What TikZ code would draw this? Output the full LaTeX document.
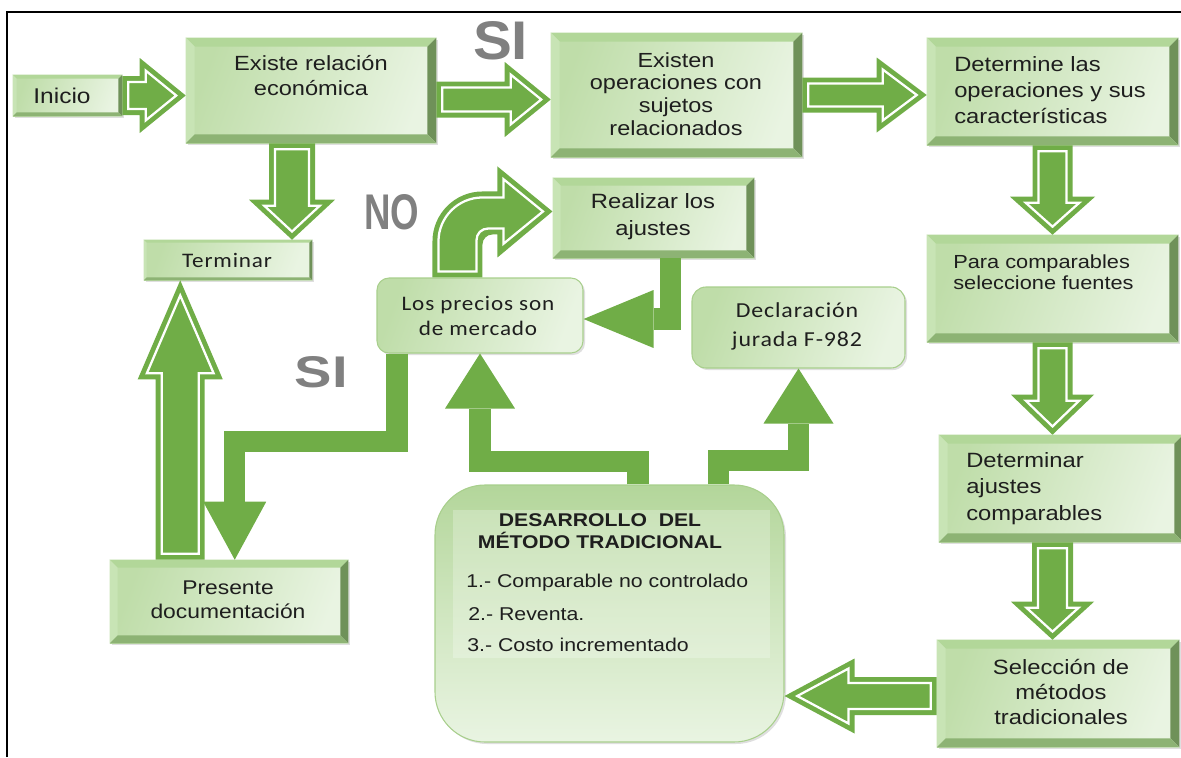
\documentclass[tikz,border=0pt]{standalone}
\usepackage{fontspec}
\setmainfont{Liberation Sans}[FakeStretch=1.15]
\newfontfamily\calfont{Carlito}[FakeStretch=1.12,LetterSpace=4]
\usepackage{graphicx}
\usetikzlibrary{calc,arrows.meta,shadows}

\definecolor{agreen}{HTML}{70AD47}
\definecolor{faceA}{HTML}{BFDDA9}
\definecolor{faceB}{HTML}{E9F4E2}
\definecolor{bvtop}{HTML}{B2D799}
\definecolor{bvleft}{HTML}{C8E4B5}
\definecolor{bvright}{HTML}{6F9159}
\definecolor{bvbottom}{HTML}{8DB374}
\definecolor{rborder}{HTML}{A8CF8C}
\definecolor{tcol}{HTML}{1E1E1E}
\definecolor{wagray}{HTML}{808080}

\newcommand\fz[2]{\fontsize{#1pt}{#2pt}\selectfont}
\def\hdd{6}
\def\hwl{1.7pt}

\newcommand\bevel[2]{%
 \fill[bvtop] (#1.north west) -- (#1.north east) -- ($(#1.north east)+(-#2,#2)$) -- ($(#1.north west)+(#2,#2)$) -- cycle;
 \fill[bvleft] (#1.north west) -- ($(#1.north west)+(#2,#2)$) -- ($(#1.south west)+(#2,-#2)$) -- (#1.south west) -- cycle;
 \fill[bvright] (#1.north east) -- ($(#1.north east)+(-#2,#2)$) -- ($(#1.south east)+(-#2,-#2)$) -- (#1.south east) -- cycle;
 \fill[bvbottom] (#1.south west) -- ($(#1.south west)+(#2,-#2)$) -- ($(#1.south east)+(-#2,-#2)$) -- (#1.south east) -- cycle;
}

\newcommand\arrowcalc[3]{% #1 body half, #2 head half, #3 head length (signed)
 \pgfmathsetmacro\hS{sign(#3)}%
 \pgfmathsetmacro\hA{abs(#3)}%
 \pgfmathsetmacro\hLen{sqrt((#3)*(#3)+(#2)*(#2))}%
 \pgfmathsetmacro\oBase{-1*(#3)}%
 \pgfmathsetmacro\iStart{\hS*\hdd}%
 \pgfmathsetmacro\iBody{#1-\hdd}%
 \pgfmathsetmacro\iBase{-1*(#3)+\hS*\hdd}%
 \pgfmathsetmacro\iHead{(#2)*(\hA-\hdd)/\hA-\hdd*\hLen/\hA}%
 \pgfmathsetmacro\iTip{-1*\hS*\hdd*\hLen/(#2)}%
}

\newcommand\hollowH[5]{%
 \arrowcalc{#3}{#4}{#5}%
 \fill[agreen] ($(#1)+(0,-#3)$) -- ($(#2)+(\oBase,-#3)$) -- ($(#2)+(\oBase,-#4)$) -- (#2) -- ($(#2)+(\oBase,#4)$) -- ($(#2)+(\oBase,#3)$) -- ($(#1)+(0,#3)$) -- cycle;
 \draw[white,line width=\hwl,line join=miter] ($(#1)+(\iStart,-\iBody)$) -- ($(#2)+(\iBase,-\iBody)$) -- ($(#2)+(\iBase,-\iHead)$) -- ($(#2)+(\iTip,0)$) -- ($(#2)+(\iBase,\iHead)$) -- ($(#2)+(\iBase,\iBody)$) -- ($(#1)+(\iStart,\iBody)$) -- cycle;
}

\newcommand\hollowV[5]{%
 \arrowcalc{#3}{#4}{#5}%
 \fill[agreen] ($(#1)+(-#3,0)$) -- ($(#2)+(-#3,\oBase)$) -- ($(#2)+(-#4,\oBase)$) -- (#2) -- ($(#2)+(#4,\oBase)$) -- ($(#2)+(#3,\oBase)$) -- ($(#1)+(#3,0)$) -- cycle;
 \draw[white,line width=\hwl,line join=miter] ($(#1)+(-\iBody,\iStart)$) -- ($(#2)+(-\iBody,\iBase)$) -- ($(#2)+(-\iHead,\iBase)$) -- ($(#2)+(0,\iTip)$) -- ($(#2)+(\iHead,\iBase)$) -- ($(#2)+(\iBody,\iBase)$) -- ($(#1)+(\iBody,\iStart)$) -- cycle;
}

\tikzset{
 bbox/.style 2 args={shape=rectangle, minimum width=#1*0.75pt, minimum height=#2*0.75pt, inner sep=0pt,
   left color=faceA, right color=faceB, shading angle=70,
   drop shadow={opacity=0.25, shadow xshift=1.5pt, shadow yshift=-1.5pt}},
 rbox/.style n args={3}{shape=rectangle, rounded corners=#3*0.75pt, minimum width=#1*0.75pt, minimum height=#2*0.75pt, inner sep=0pt,
   draw=rborder, line width=0.8pt, left color=faceA, right color=faceB, shading angle=70,
   drop shadow={opacity=0.25, shadow xshift=1.5pt, shadow yshift=-1.5pt}},
 txt/.style={inner sep=0pt, text=tcol, align=center},
 wa/.style={inner sep=0pt, text=wagray, font=\bfseries},
 solidarr/.style 2 args={draw=agreen, line width=16pt, line join=miter, -{Triangle[length=#1, width=#2, line width=0pt]}},
}

\begin{document}
\begin{tikzpicture}[x=0.75pt,y=-0.75pt]
\useasboundingbox (0,0) rectangle (1181,757);
\draw[line width=1.1pt] (7,757) -- (7,12) -- (1181,12);

% boxes
\node[bbox={109}{41}] (inicio) at (67.5,95.5) {}; \bevel{inicio}{4}
\node[bbox={250}{105}] (existe) at (311,90.5) {}; \bevel{existe}{9}
\node[bbox={251}{124}] (existen) at (676.5,95) {}; \bevel{existen}{9}
\node[bbox={251}{107}] (determine) at (1052.5,91.5) {}; \bevel{determine}{9}
\node[bbox={168}{40}] (terminar) at (228,260) {}; \bevel{terminar}{3}
\node[bbox={201}{80}] (realizar) at (653.5,218) {}; \bevel{realizar}{8}
\node[bbox={251}{107}] (para) at (1052.5,288.5) {}; \bevel{para}{9}
\node[bbox={244}{107}] (determinar) at (1061,488.5) {}; \bevel{determinar}{9}
\node[bbox={242}{107}] (seleccion) at (1058,693.5) {}; \bevel{seleccion}{9}
\node[bbox={238}{83}] (presente) at (229,601.5) {}; \bevel{presente}{8}
\node[rbox={206}{75}{12}] (lp) at (480,315.5) {};
\node[rbox={213}{81}{14}] (decl) at (798.5,327.5) {};
\node[rbox={349}{257}{50}, top color=faceA!85!agreen, bottom color=faceB, middle color=faceA!60!faceB] (desarrollo) at (609.5,613.5) {};
\fill[white,opacity=0.25] (453,510) rectangle (770,658);

% hollow block arrows
\coordinate (a1s) at (inicio.east);
\coordinate (a1t) at (existe.west |- a1s);
\hollowH{a1s}{a1t}{19.5}{37.5}{46}
\coordinate (a2s) at ($(existe.east)+(0,9)$);
\coordinate (a2t) at (existen.west |- a2s);
\hollowH{a2s}{a2t}{18}{37.5}{46}
\coordinate (a3s) at (existen.east);
\coordinate (a3t) at (determine.west |- a3s);
\hollowH{a3s}{a3t}{17.5}{37.5}{50}
\coordinate (a4s) at ($(existe.south)+(-19,0)$);
\coordinate (a4t) at (a4s |- terminar.north);
\hollowV{a4s}{a4t}{23}{43}{40}
\coordinate (a5s) at (determine.south);
\coordinate (a5t) at (a5s |- para.north);
\hollowV{a5s}{a5t}{20}{42.5}{38}
\coordinate (a6s) at (para.south);
\coordinate (a6t) at (a6s |- determinar.north);
\hollowV{a6s}{a6t}{20}{41.5}{40}
\coordinate (a7s) at (a6s |- determinar.south);
\coordinate (a7t) at (a6s |- seleccion.north);
\hollowV{a7s}{a7t}{20.5}{41.5}{38}
\coordinate (a8s) at ($(seleccion.west)+(0,2.5)$);
\coordinate (a8t) at (desarrollo.east |- a8s);
\hollowH{a8s}{a8t}{19}{37.5}{-70}
\coordinate (a9s) at ($(presente.north west)+(70.5,0)$);
\coordinate (a9t) at (a9s |- terminar.south);
\hollowV{a9s}{a9t}{24.5}{42.5}{-99}

% curved NO arrow from lp to realizar
\begin{scope}[shift={(lp.north west)}]
 \fill[agreen] (56,0) -- (56,-36) .. controls (56,-63.6) and (78.4,-86) .. (106,-86) -- (121,-86) -- (121,-111) -- (176,-66) -- (121,-20) -- (121,-43) -- (116,-43) .. controls (110.5,-43) and (106,-38.5) .. (106,-33) -- (106,0) -- cycle;
 \draw[white,line width=\hwl,line join=miter] (62,-6) -- (62,-36) .. controls (62,-60.3) and (81.7,-80) .. (106,-80) -- (127,-80) -- (127,-98.3) -- (166.5,-66) -- (127,-33.7) -- (127,-49) -- (112,-49) .. controls (105,-49) and (100,-44) .. (100,-37) -- (100,-6) -- cycle;
\end{scope}

% solid connectors
\coordinate (s1s) at ($(lp.south west)+(20.5,0)$);
\coordinate (s1t) at ($(presente.north west)+(125,0)$);
\draw[solidarr={43.5pt}{47.25pt}] (s1s) -- ($(s1s)+(0,88)$) -| (s1t);
\coordinate (s2s) at ($(realizar.south west)+(117.5,0)$);
\coordinate (s2t) at ($(lp.east)+(0,3.5)$);
\draw[solidarr={52.5pt}{43.5pt}] (s2s) |- (s2t);
\coordinate (s3s) at ($(desarrollo.north west)+(203.5,0)$);
\draw[solidarr={41.25pt}{52.5pt}] (s3s) -- ($(s3s)+(0,-23)$) -| (lp.south);
\coordinate (s4s) at ($(desarrollo.north west)+(284,0)$);
\draw[solidarr={41.25pt}{52.5pt}] (s4s) -- ($(s4s)+(0,-24)$) -| (decl.south);

% texts
\node[txt, font=\fz{16}{19}] (t-inicio) at (62,95.5) {Inicio};
\node[txt, font=\fz{15.4}{18.75}] (t-existe) at (311,75.5) {Existe relación\\económica};
\node[txt, font=\fz{15.3}{17}] (t-existen) at (676,94) {Existen\\operaciones con\\sujetos\\relacionados};
\node[txt, align=left, anchor=west, font=\fz{15.5}{19.5}] (t-determine) at (954,90) {Determine las\\operaciones y sus\\características};
\node[txt, font=\calfont\fz{15.5}{18}] (t-terminar) at (227,260) {Terminar};
\node[txt, font=\calfont\fz{15.5}{18.8}] (t-lp) at (478,315.5) {Los precios son\\de mercado};
\node[txt, font=\fz{15.5}{20}] (t-realizar) at (653,216.5) {Realizar los\\ajustes};
\node[txt, font=\calfont\fz{16}{21.75}] (t-decl) at (797,326.5) {Declaración\\jurada F-982};
\node[txt, align=left, anchor=west, font=\fz{14.2}{15.8}] (t-para) at (953,272.5) {Para comparables\\seleccione fuentes};
\node[txt, align=left, anchor=west, font=\fz{15.5}{19.9}] (t-determinar) at (966,488.5) {Determinar\\ajustes\\comparables};
\node[txt, font=\fz{15.5}{18.75}] (t-seleccion) at (1061,692) {Selección de\\métodos\\tradicionales};
\node[txt, font=\fz{14.9}{18}] (t-presente) at (228,600) {Presente\\documentación};
\node[txt, font=\bfseries\fz{13.8}{16.5}] (t-title) at (600,531) {DESARROLLO\ \ DEL\\MÉTODO TRADICIONAL};
\node[txt, anchor=west, font=\fz{13.9}{16}] (t-i1) at (466,583) {1.- Comparable no controlado};
\node[txt, anchor=west, font=\fz{13.9}{16}] (t-i2) at (468,614) {2.- Reventa.};
\node[txt, anchor=west, font=\fz{13.9}{16}] (t-i3) at (467,645) {3.- Costo incrementado};

% word-art labels
\node[wa] (si1) at (500.5,41) {\resizebox{41.25pt}{28.5pt}{SI}};
\node[wa] (no) at (391.5,212.5) {\resizebox{41.25pt}{26.25pt}{NO}};
\node[wa] (si2) at (321.5,372.5) {\resizebox{39.75pt}{23.25pt}{SI}};
\end{tikzpicture}
\end{document}
